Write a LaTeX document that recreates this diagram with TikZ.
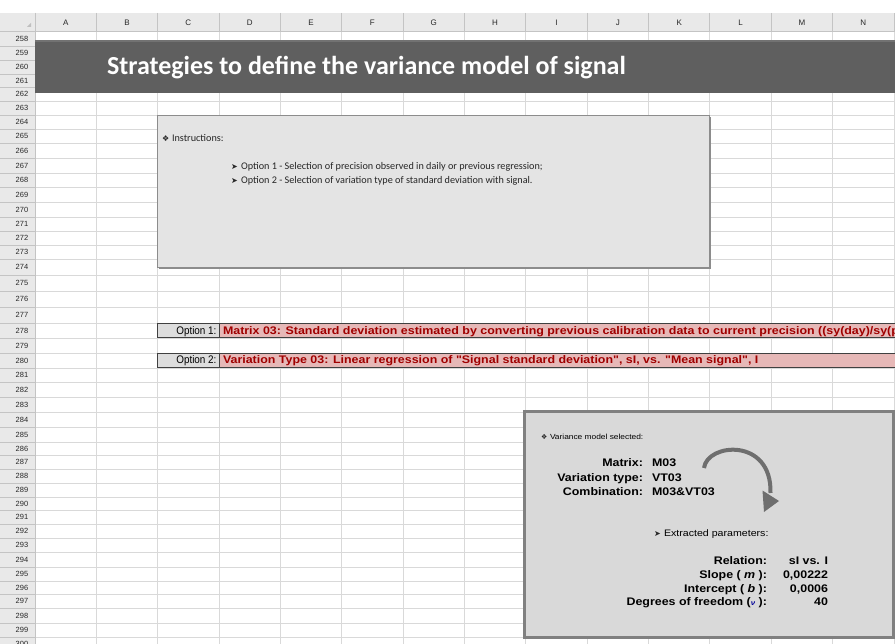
\documentclass[tikz,border=0pt]{standalone}
\usepackage{fontspec}
\setmainfont{Liberation Sans}
\newfontfamily\calfont{Carlito}
\newfontfamily\narrowfont{Liberation Sans}[FakeStretch=0.9]
\newfontfamily\widefont{Liberation Sans}[FakeStretch=1.13]
\newfontfamily\symfont{DejaVu Sans}
\definecolor{gridc}{HTML}{D9D9D9}
\definecolor{hdrfill}{HTML}{E9E9E9}
\definecolor{hdrline}{HTML}{C4C4C4}
\definecolor{titlefill}{HTML}{5F5F5F}
\definecolor{instrfill}{HTML}{E4E4E4}
\definecolor{instrline}{HTML}{8C8C8C}
\definecolor{pinkfill}{HTML}{E6B8B7}
\definecolor{optred}{HTML}{A00000}
\definecolor{labfill}{HTML}{DDDDDD}
\definecolor{varfill}{HTML}{D9D9D9}
\definecolor{varline}{HTML}{808080}
\definecolor{arrowc}{HTML}{6E6E6E}
\tikzset{
  colhead/.style={font=\fontsize{8}{8}\selectfont, text=black!85},
  rowhead/.style={font=\fontsize{7.5}{7.5}\selectfont, text=black!85},
  titletext/.style={font=\calfont\bfseries\fontsize{26}{26}\selectfont, text=white},
  instrbox/.style={fill=instrfill, draw=instrline, line width=0.8pt},
  instrtext/.style={font=\calfont\fontsize{10.2}{10.2}\selectfont, text=black!85},
  symtext/.style={font=\symfont\fontsize{8}{8}\selectfont, text=black!85},
  cellborder/.style={draw=black!75, line width=0.8pt},
  optlab/.style={font=\narrowfont\fontsize{11}{11}\selectfont, text=black},
  opttext/.style={font=\widefont\bfseries\fontsize{11}{11}\selectfont, text=optred},
  varbox/.style={fill=varfill, draw=varline, line width=3pt},
  smalltext/.style={font=\widefont\fontsize{7.4}{7.4}\selectfont, text=black},
  paramhead/.style={font=\widefont\fontsize{9.4}{9.4}\selectfont, text=black},
  varlab/.style={font=\widefont\bfseries\fontsize{11}{11}\selectfont, text=black},
  curvearrow/.style={draw=arrowc, line width=4pt},
  arrowheadfill/.style={fill=arrowc},
}
\begin{document}
\begin{tikzpicture}[x=1pt,y=-1pt, every node/.style={inner sep=0pt, outer sep=0pt}]
\useasboundingbox (0,0) rectangle (895,644);
\clip (0,0) rectangle (895,644);
\fill[white] (0,0) rectangle (895,644);
% column header band and row header column
\fill[hdrfill] (0,13) rectangle (895,32);
\fill[hdrfill] (0,32) rectangle (35,651);
\fill[black!25] (27,27) -- (31,27) -- (31,23) -- cycle;
% grid
\foreach \i in {0,...,14} {
  \draw[gridc, line width=0.8pt] ({35+61.35*\i},32) -- ({35+61.35*\i},651);
  \draw[hdrline, line width=0.8pt] ({35+61.35*\i},13) -- ({35+61.35*\i},32);
}
\foreach \L [count=\i from 0] in {A,B,C,D,E,F,G,H,I,J,K,L,M,N}
  \node[colhead] (col\L) at ({35+61.35*\i+30.67},23) {\L};
\foreach \a/\b [count=\n from 258] in {32/46,46/60,60/74,74/87,87/101,101/115,115/129,129/143,143/158,158/173,173/187,187/202,202/217,217/231,231/245,245/259,259/275,275/291,291/307,307/323,323/338,338/353,353/368,368/382,382/397,397/412,412/427,427/442,442/455,455/469,469/483,483/497,497/510,510/524,524/538,538/552,552/567,567/581,581/594,594/608,608/623,623/637,637/651} {
  \draw[gridc, line width=0.8pt] (35,\b) -- (895,\b);
  \draw[hdrline, line width=0.8pt] (0,\b) -- (35,\b);
  \node[rowhead] (row\n) at (22,{(\a+\b)/2}) {\n};
}
\draw[hdrline, line width=1pt] (0,32) -- (895,32);
\draw[hdrline, line width=1pt] (35,13) -- (35,651);
% title bar
\fill[titlefill] (35,40) rectangle (895,93);
\fill[white, opacity=0.12] (35,40) rectangle (895,42);
\node[titletext, anchor=base west] (title) at (107,75) {Strategies to define the variance model of signal};
% instructions box
\fill[black!45] (159,117) rectangle (711,269);
\node[instrbox, anchor=north west, minimum width=552, minimum height=152] (instr) at (157,115) {};
\node[symtext, anchor=base west] (instrsym) at (162,142) {❖};
\node[instrtext, anchor=base west] (instrhead) at (172,142) {Instructions:};
\node[symtext, anchor=base west] (op1sym) at (231,170) {➤};
\node[instrtext, anchor=base west] (op1inst) at (241,170) {Option 1 - Selection of precision observed in daily or previous regression;};
\node[symtext, anchor=base west] (op2sym) at (231,184) {➤};
\node[instrtext, anchor=base west] (op2inst) at (241,184) {Option 2 - Selection of variation type of standard deviation with signal.};
% option rows
\node[cellborder, fill=labfill, anchor=north west, minimum width=61.35, minimum height=14] (opt1cell) at (157.7,323.5) {};
\node[optlab, anchor=base east] (opt1lab) at (216.5,334.5) {Option 1:};
\node[cellborder, fill=pinkfill, anchor=north west, minimum width=690, minimum height=14] (opt1val) at (219.05,323.5) {};
\node[cellborder, fill=labfill, anchor=north west, minimum width=61.35, minimum height=14] (opt2cell) at (157.7,353) {};
\node[optlab, anchor=base east] (opt2lab) at (216.5,364) {Option 2:};
\node[cellborder, fill=pinkfill, anchor=north west, minimum width=690, minimum height=14] (opt2val) at (219.05,353) {};
\begin{scope}
\clip (220,320) rectangle (895,370);
\node[opttext, anchor=base west] (opt1text) at (223,334.5) {Matrix 03: Standard deviation estimated by converting previous calibration data to current precision ((sy(day)/sy(previous))};
\node[opttext, anchor=base west] (opt2text) at (223,364) {Variation Type 03: Linear regression of "Signal standard deviation", sI, vs. "Mean signal", I};
\end{scope}
% variance model box
\node[varbox, anchor=north west, minimum width=369, minimum height=225] (var) at (524,412) {};
\node[symtext, font=\symfont\fontsize{7}{7}\selectfont, anchor=base west] (varsym) at (541,439.5) {❖};
\node[smalltext, anchor=base west] (varhead) at (550,439.5) {Variance model selected:};
\node[varlab, anchor=base east] (matlab) at (643,467) {Matrix:};
\node[varlab, anchor=base west] (matval) at (652,467) {M03};
\node[varlab, anchor=base east] (vtlab) at (643,481) {Variation type:};
\node[varlab, anchor=base west] (vtval) at (652,481) {VT03};
\node[varlab, anchor=base east] (comblab) at (643,495) {Combination:};
\node[varlab, anchor=base west] (combval) at (652,495) {M03\&VT03};
% curved arrow
\coordinate (arcstart) at (704,468);
\coordinate (arcend) at (770.5,493);
\draw[curvearrow] (arcstart) .. controls (707,443) and (772,437) .. (arcend);
\fill[arrowheadfill] (762.5,490.5) -- (779,501) -- (764,512) -- cycle;
\node[symtext, anchor=base west] (extsym) at (654,536) {➤};
\node[paramhead, anchor=base west] (exthead) at (664,536) {Extracted parameters:};
\node[varlab, anchor=base east] (rellab) at (767,564.5) {Relation:};
\node[varlab, anchor=base east] (relval) at (828,564.5) {sI vs. I};
\node[varlab, anchor=base east] (slopelab) at (767,578.5) {Slope ( {\itshape m} ):};
\node[varlab, anchor=base east] (slopeval) at (828,578.5) {0,00222};
\node[varlab, anchor=base east] (intlab) at (767,592.5) {Intercept ( {\itshape b} ):};
\node[varlab, anchor=base east] (intval) at (828,592.5) {0,0006};
\node[varlab, anchor=base east] (doflab) at (767,605.5) {Degrees of freedom ({\color{blue!60!black}\fontsize{7}{7}\selectfont\itshape ν} ):};
\node[varlab, anchor=base east] (dofval) at (828,605.5) {40};
\end{tikzpicture}
\end{document}
